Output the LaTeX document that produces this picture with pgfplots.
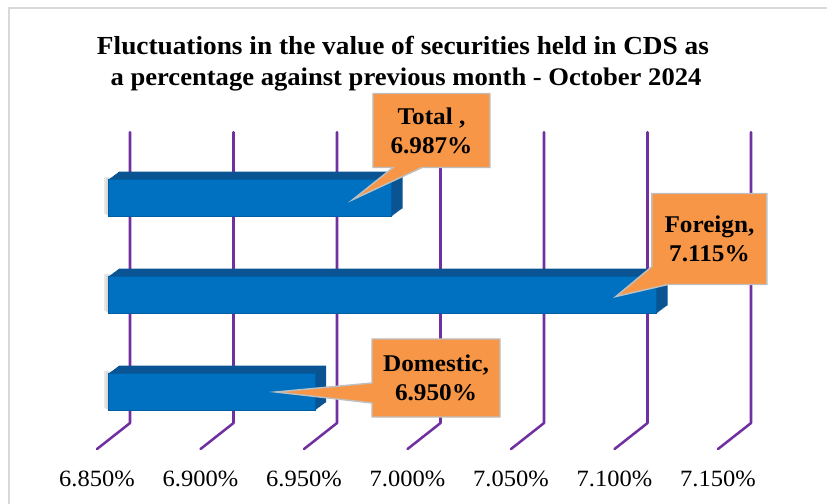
\documentclass[border=0pt]{standalone}
\usepackage{pgfplots}
\pgfplotsset{compat=1.18}
\usepackage{pgfplotstable}
\usepackage{fontspec}
\setmainfont{Liberation Serif}[FakeStretch=1.05]
\definecolor{barfront}{HTML}{0070C0}
\definecolor{barside}{HTML}{0B5494}
\definecolor{gridpurple}{HTML}{7030A0}
\definecolor{calloutfill}{HTML}{F79646}
\definecolor{framegray}{HTML}{D9D9D9}

% value = change in % ; pos: 0 Domestic, 1 Foreign, 2 Total
\pgfplotstableread{
pos value
0 6.950
1 7.115
2 6.987
}\securities

\begin{document}
\begin{tikzpicture}
\useasboundingbox (0,0) rectangle (620.25pt,377.25pt);
\begin{scope}[shift={(0,377.25pt)}, x=0.75pt, y=-0.75pt]
\draw[framegray, line width=1.1pt] (9,505) -- (9,8) -- (830,8);
\node[font=\bfseries\fontsize{19.5}{22}\selectfont, anchor=base, inner sep=0pt] at (403,55) {Fluctuations in the value of securities held in CDS as};
\node[font=\bfseries\fontsize{19}{22}\selectfont, anchor=base, inner sep=0pt] at (406,86) {a percentage against previous month - October 2024};
\end{scope}

\begin{axis}[at={(81pt,46.875pt)}, anchor=south west, scale only axis,
  width=465.75pt, height=218.25pt,
  xmin=0, xmax=0.3, ymin=-0.5, ymax=2.5, clip=false,
  axis line style={draw=none}, ytick=\empty,
  xtick={0,0.05,0.1,0.15,0.2,0.25,0.3},
  xticklabels={6.850\%,6.900\%,6.950\%,7.000\%,7.050\%,7.100\%,7.150\%},
  major tick length=0pt,
  x tick label style={anchor=center, xshift=-8.25pt, yshift=-28.9pt, font=\fontsize{17.5}{20}\selectfont},
  xbar, bar width=27.75pt]
\pgfplotsinvokeforeach{0,0.05,0.1,0.15,0.2,0.25,0.3}{
  \draw[gridpurple, line width=1.9pt, line cap=round, line join=round]
    ([xshift=16.5pt]axis cs:#1,2.68) -- ([xshift=16.5pt]axis cs:#1,-0.32) -- ([xshift=-8.25pt]axis cs:#1,-0.588);
}
\addplot[xbar, draw=none, fill=gray!18, xshift=-3pt, yshift=2pt, forget plot]
  table[x expr=\thisrow{value}-6.85, y=pos] {\securities};
\addplot[xbar, draw=none, fill=gray!30, xshift=-1.5pt, yshift=1pt, forget plot]
  table[x expr=\thisrow{value}-6.85, y=pos] {\securities};
\pgfplotsinvokeforeach{11,10,...,1}{
  \addplot[xbar, draw=none, fill=barside, xshift=#1*0.75pt, yshift=#1*0.545pt, forget plot]
    table[x expr=\thisrow{value}-6.85, y=pos] {\securities};
}
\addplot[xbar, draw=barfront!85!black, line width=0.3pt, fill=barfront]
  table[x expr=\thisrow{value}-6.85, y=pos] {\securities};
\coordinate (cD) at (axis cs:0.100,0);
\coordinate (cF) at (axis cs:0.265,1);
\coordinate (cT) at (axis cs:0.137,2);
\end{axis}

\tikzset{callout/.style={fill=calloutfill, draw=gray!50, line width=1.1pt, line join=miter},
  callouttext/.style={align=center, font=\bfseries\fontsize{18}{21.75}\selectfont, inner sep=0pt}}
\begin{scope}[shift={(cT)}, x=0.75pt, y=-0.75pt]
\draw[callout] (-18.6,-104.5) -- (98.4,-104.5) -- (98.4,-30.5) -- (30.4,-30.5) -- (-38.6,1.5) -- (1.4,-30.5) -- (-18.6,-30.5) -- cycle;
\node[callouttext] at (39.9,-67.5) {Total ,\\6.987\%};
\end{scope}
\begin{scope}[shift={(cF)}, x=0.75pt, y=-0.75pt]
\draw[callout] (-4.6,-101.5) -- (110.4,-101.5) -- (110.4,-10.5) -- (11.4,-10.5) -- (-40.6,1.5) -- (-4.6,-28.5) -- cycle;
\node[callouttext] at (52.9,-56) {Foreign,\\7.115\%};
\end{scope}
\begin{scope}[shift={(cD)}, x=0.75pt, y=-0.75pt]
\draw[callout] (57,-53) -- (185,-53) -- (185,25) -- (57,25) -- (57,11) -- (-39,0) -- (57,-9) -- cycle;
\node[callouttext] at (121,-14) {Domestic,\\6.950\%};
\end{scope}
\end{tikzpicture}
\end{document}
